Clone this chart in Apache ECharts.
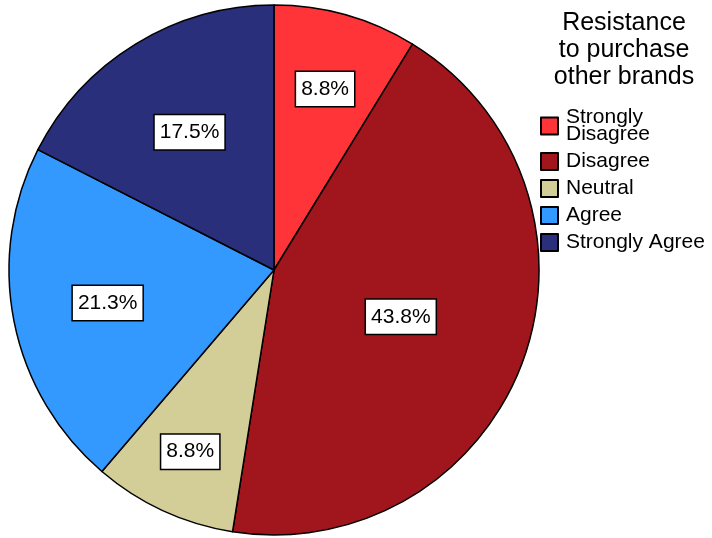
<!DOCTYPE html>
<html>
<head>
<meta charset="utf-8">
<script src="https://cdn.jsdelivr.net/npm/echarts@6/dist/echarts.min.js"></script>
<style>
  html, body { margin: 0; padding: 0; background: #fff; }
  #chart { width: 712px; height: 538px; }
</style>
</head>
<body>
<div id="chart"></div>
<script>
  // categories and counts (shares 8.8 / 43.8 / 8.8 / 21.3 / 17.5 %)
  var categories = ['Strongly\nDisagree', 'Disagree', 'Neutral', 'Agree', 'Strongly Agree'];
  var counts = [7, 35, 7, 17, 14];
  var colors = ['#fe3439', '#a0161c', '#d3ce98', '#3399ff', '#292f7a'];

  // how far out along each slice's bisector the label box sits (fraction of radius)
  var labelDepth = [0.71, 0.51, 0.755, 0.64, 0.61];

  var cx = 274, cy = 270, R = 265;
  var font = 'Liberation Sans, Arial, sans-serif';

  var total = counts.reduce(function (a, b) { return a + b; }, 0);
  var midAngles = [];
  var acc = 0;
  counts.forEach(function (v) {
    midAngles.push((acc + v / 2) / total * 2 * Math.PI);
    acc += v;
  });

  var pieData = categories.map(function (c, i) {
    return { name: c, value: counts[i], itemStyle: { color: colors[i] } };
  });

  var option = {
    animation: false,
    title: {
      text: 'Resistance\nto purchase\nother brands',
      left: 619,
      top: 5,
      textAlign: 'center',
      textStyle: {
        fontFamily: font,
        fontSize: 25,
        lineHeight: 27,
        fontWeight: 'normal',
        color: '#000'
      }
    },
    legend: {
      orient: 'vertical',
      left: 540,
      top: 107,
      padding: 0,
      itemWidth: 17,
      itemHeight: 17,
      itemGap: 6,
      icon: 'rect',
      textStyle: {
        fontFamily: font,
        fontSize: 21,
        lineHeight: 17,
        color: '#000',
        padding: [0, 0, 0, 3]
      },
      data: categories
    },
    series: [
      {
        type: 'pie',
        center: [cx, cy],
        radius: R,
        startAngle: 90,
        clockwise: true,
        data: pieData,
        itemStyle: {
          borderColor: '#000',
          borderWidth: 1.5
        },
        label: {
          show: true,
          position: 'inside',
          formatter: function (p) {
            return p.percent.toFixed(1) + '%';
          },
          fontFamily: font,
          fontSize: 21,
          color: '#000',
          backgroundColor: '#fff',
          borderColor: '#000',
          borderWidth: 1.5,
          padding: [7, 5, 6, 5]
        },
        labelLayout: function (p) {
          var i = p.dataIndex;
          var a = midAngles[i];
          var d = labelDepth[i] * R;
          return {
            x: cx + d * Math.sin(a),
            y: cy - d * Math.cos(a),
            align: 'center',
            verticalAlign: 'middle'
          };
        },
        labelLine: { show: false },
        emphasis: { disabled: true }
      }
    ]
  };

  var chart = echarts.init(document.getElementById('chart'));
  chart.setOption(option);
</script>
</body>
</html>
